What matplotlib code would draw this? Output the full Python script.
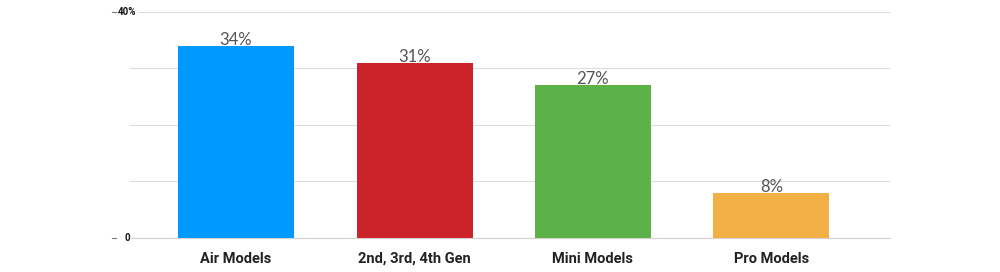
import matplotlib
matplotlib.use("Agg")
import matplotlib.pyplot as plt

categories = ["Air Models", "2nd, 3rd, 4th Gen", "Mini Models", "Pro Models"]
values = [34, 31, 27, 8]
colors = ["#0099FF", "#CC2229", "#5CB148", "#F2AF44"]
ytick_vals = [0, 40]
ytick_labels = ["0", "40%"]

fig = plt.figure(figsize=(10, 2.72), dpi=100)
ax = fig.add_axes([0.13, 0.125, 0.76, 0.831])

x = list(range(len(categories)))
ax.bar(x, values, width=0.65, color=colors, zorder=3)
for xi, v in zip(x, values):
    ax.text(xi, v - 0.35, f"{v}%", ha="center", va="bottom", fontsize=12,
            color="#555555", family="Lato", zorder=4)

ax.set_ylim(0, 40)
ax.set_xlim(-0.594, 3.664)
ax.set_yticks([0, 10, 20, 30, 40])
ax.set_yticklabels([])
ax.tick_params(axis="y", length=0)
ax.grid(axis="y", color="#dddddd", linewidth=0.8, zorder=0)
ax.set_xticks(x)
ax.set_xticklabels(categories, fontsize=10.5, fontweight="bold", family="Roboto",
                   color="#222222")
ax.tick_params(axis="x", length=0, pad=10)
for s in ["top", "right", "left"]:
    ax.spines[s].set_visible(False)
ax.spines["bottom"].set_color("#d8cfd2")
ax.spines["bottom"].set_linewidth(0.8)

# y labels centred left of the plot, with small tick marks
trans = ax.get_yaxis_transform()
for yv, lab in zip(ytick_vals, ytick_labels):
    ax.text(-0.004, yv, lab, transform=trans, ha="center", va="center",
            fontsize=7, fontweight="bold", family="Roboto", color="#111111",
            bbox=dict(facecolor="white", edgecolor="none", pad=1.0), zorder=5,
            clip_on=False)
    ax.plot([-0.0237, -0.018], [yv, yv], transform=trans, color="#777777",
            linewidth=0.8, clip_on=False, zorder=5)

fig.savefig("out.png", dpi=100, facecolor="white")
